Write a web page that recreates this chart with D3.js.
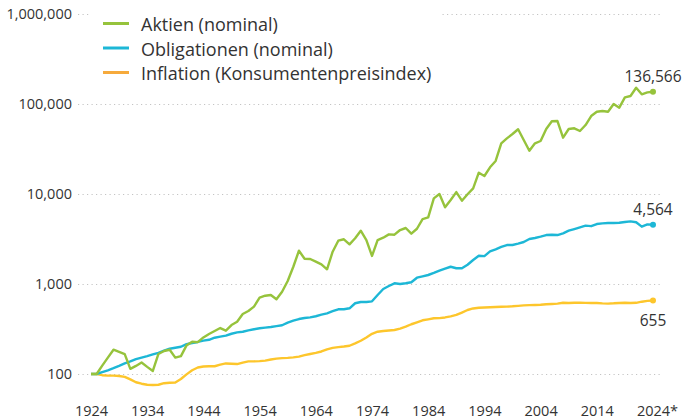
<!DOCTYPE html>
<html>
<head>
<meta charset="utf-8">
<script src="https://cdn.jsdelivr.net/npm/d3@7"></script>
<style>
  body { margin: 0; background: #fff; }
  text { font-family: "Open Sans", sans-serif; fill: #333; }
</style>
</head>
<body>
<div id="chart"></div>
<script>
'use strict';

const width = 682;
const height = 420;

const years = d3.range(1924, 2025);

const seriesNames = ["Aktien (nominal)", "Obligationen (nominal)", "Inflation (Konsumentenpreisindex)"];

// Aktien, 1924 = 100
const aktien = [
    100, 100, 124, 152, 186, 176, 166, 114, 123, 134,
    120, 108, 167, 180, 186, 152, 158, 208, 228, 226,
    255, 278, 300, 324, 303, 350, 381, 464, 501, 560,
    705, 741, 755, 676, 820, 1080, 1555, 2345, 1910, 1895,
    1770, 1655, 1456, 2285, 3030, 3140, 2760, 3220, 3910, 3080,
    2050, 3080, 3270, 3560, 3530, 3980, 4190, 3620, 4110, 5270,
    5500, 8950, 10000, 7110, 8580, 10500, 8430, 9930, 11560, 17260,
    15850, 19800, 23270, 36560, 41550, 46400, 52400, 39800, 30270, 36560,
    38800, 52750, 64200, 64700, 42270, 52750, 53700, 50100, 58400, 73500,
    82100, 83500, 82100, 100000, 91000, 118600, 122700, 151700, 128200, 134800,
    136566
];

// Obligationen, 1924 = 100
const obligationen = [
    100, 100, 105, 110, 116, 123, 131, 138, 146, 152,
    158, 165, 172, 182, 191, 196, 201, 215, 221, 227,
    235, 240, 253, 260, 267, 280, 290, 295, 305, 314,
    322, 328, 333, 340, 348, 372, 391, 408, 419, 426,
    438, 456, 472, 498, 524, 524, 537, 611, 631, 631,
    642, 755, 880, 950, 1018, 1000, 1018, 1045, 1175, 1218,
    1259, 1326, 1405, 1480, 1555, 1495, 1495, 1637, 1848, 2060,
    2040, 2305, 2430, 2580, 2710, 2710, 2805, 2930, 3160, 3245,
    3355, 3500, 3530, 3500, 3655, 3910, 4080, 4265, 4450, 4390,
    4640, 4720, 4760, 4760, 4800, 4890, 4970, 4860, 4335, 4600,
    4564
];

// Konsumentenpreisindex, 1924 = 100
const inflation = [
    100, 100, 97, 96, 96, 95, 93, 87, 81, 78,
    76, 75.5, 76, 79, 80, 80.5, 88, 99, 110, 118,
    121, 122, 122, 127, 131, 130, 129, 134, 138, 138,
    139, 141, 145, 148, 150, 151, 153, 156, 162, 167,
    172, 178, 188, 195, 199, 202, 206, 219, 234, 255,
    280, 295, 300, 304, 308, 320, 336, 357, 375, 395,
    405, 416, 418, 425, 437, 453, 482, 514, 535, 545,
    548, 551, 555, 558, 560, 565, 572, 578, 582, 585,
    588, 595, 600, 605, 618, 615, 620, 621, 617, 616,
    616, 609, 606, 610, 616, 618, 614, 618, 636, 650,
    655
];

const yTicks = [100, 1000, 10000, 100000, 1000000];
const xTicks = d3.range(1924, 2025, 10);

const lineColors = ["#96c33c", "#1db7d6", "#fdc62c"];
const legendColors = ["#96c33c", "#1db7d6", "#f6aa3c"];

const series = [aktien, obligationen, inflation];

const svg = d3.create("svg")
    .attr("width", width)
    .attr("height", height)
    .attr("viewBox", [0, 0, width, height]);

const x = d3.scaleLinear()
    .domain([1924, 2024])
    .range([91, 653]);

const y = d3.scaleLog()
    .domain([100, 1000000])
    .range([374, 14]);

// y axis with dotted grid
svg.append("g")
    .attr("transform", "translate(78,0)")
    .call(d3.axisRight(y).tickValues(yTicks).tickSize(582).tickFormat(""))
    .call(g => g.select(".domain").remove())
    .call(g => g.selectAll(".tick line")
        .attr("stroke", "#c4c4c4")
        .attr("stroke-width", 1)
        .attr("stroke-dasharray", "1.2,3.3"));

svg.append("g")
    .attr("transform", "translate(72,0)")
    .call(d3.axisLeft(y).tickValues(yTicks).tickSize(0).tickPadding(0).tickFormat(d3.format(",")))
    .call(g => g.select(".domain").remove())
    .call(g => g.selectAll(".tick text")
        .attr("font-size", 14.5)
        .attr("font-family", null)
        .attr("fill", "#333"));

// x axis labels
svg.append("g")
    .attr("transform", "translate(0,400)")
    .call(d3.axisBottom(x).tickValues(xTicks).tickSize(0).tickPadding(6)
        .tickFormat(d => d === 2024 ? "2024*" : String(d)))
    .call(g => g.select(".domain").remove())
    .call(g => g.selectAll(".tick text")
        .attr("font-size", 14.5)
        .attr("font-family", null)
        .attr("fill", "#333")
        .attr("dx", d => d === 2024 ? 4 : 0));

// lines
const line = d3.line()
    .x((d, i) => x(years[i]))
    .y(d => y(d));

for (let s = 2; s >= 0; s--) {
    svg.append("path")
        .attr("d", line(series[s]))
        .attr("fill", "none")
        .attr("stroke", lineColors[s])
        .attr("stroke-width", 2.4)
        .attr("stroke-linejoin", "round");
    svg.append("circle")
        .attr("cx", x(2024))
        .attr("cy", y(series[s][series[s].length - 1]))
        .attr("r", 3)
        .attr("fill", lineColors[s]);
}

// end labels
const endFmt = d3.format(",");
const endOffsets = [-10, -10, 25];
for (let s = 0; s < 3; s++) {
    const last = series[s][series[s].length - 1];
    svg.append("text")
        .attr("x", x(2024))
        .attr("y", y(last) + endOffsets[s])
        .attr("text-anchor", "middle")
        .attr("font-size", 15.5)
        .text(endFmt(last));
}

// legend
const legend = svg.append("g");
legend.append("rect")
    .attr("x", 90)
    .attr("y", 4)
    .attr("width", 350)
    .attr("height", 80)
    .attr("fill", "#fff");
seriesNames.forEach((name, i) => {
    const ly = 23.5 + i * 24.5;
    legend.append("line")
        .attr("x1", 103).attr("x2", 129)
        .attr("y1", ly).attr("y2", ly)
        .attr("stroke", legendColors[i])
        .attr("stroke-width", 3);
    legend.append("text")
        .attr("x", 141)
        .attr("y", ly + 7.5)
        .attr("font-size", 18)
        .text(name);
});

d3.select("#chart").node().append(svg.node());
</script>
</body>
</html>
